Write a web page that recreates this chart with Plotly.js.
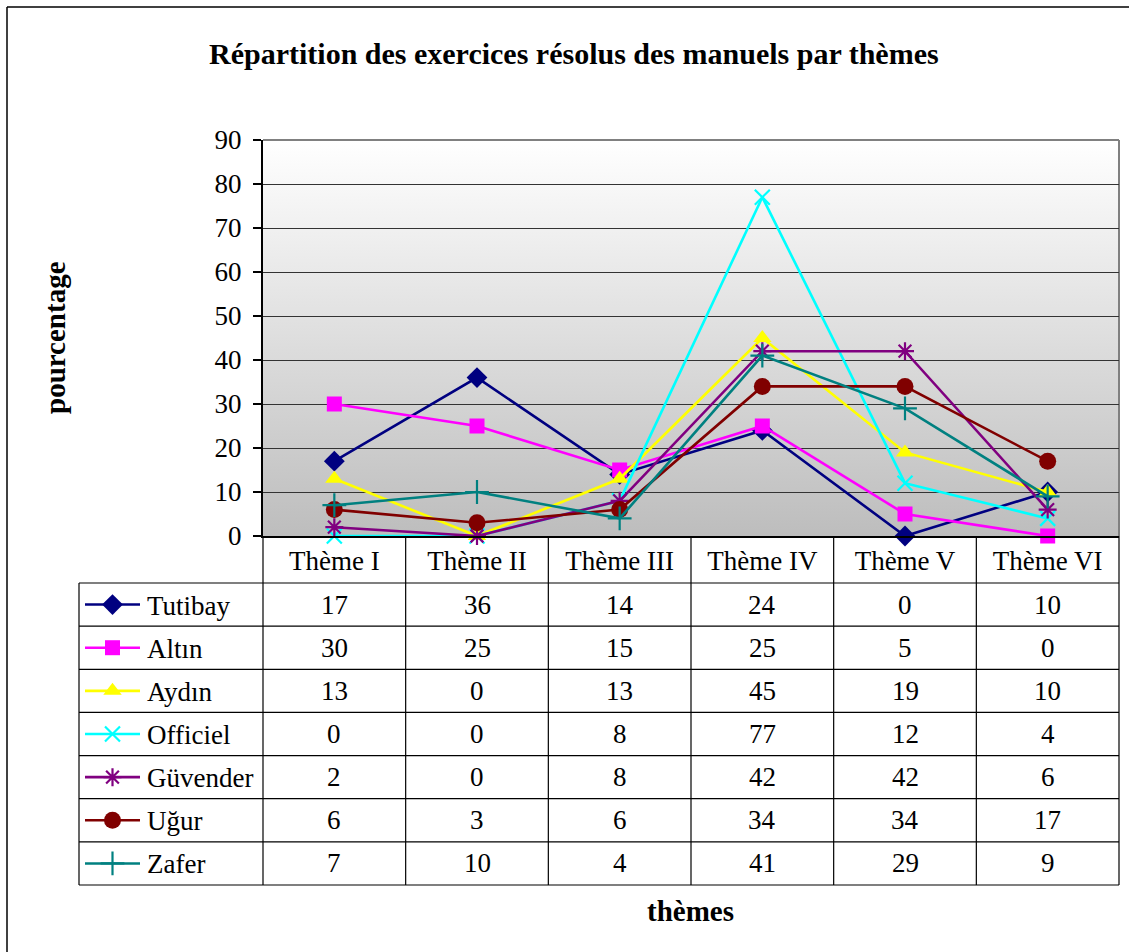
<!DOCTYPE html>
<html>
<head>
<meta charset="utf-8">
<script src="https://cdn.plot.ly/plotly-3.0.1.min.js"></script>
<style>html,body{margin:0;padding:0;background:#fff;}#chart{width:1129px;height:952px;}</style>
</head>
<body>
<div id="chart"></div>
<script>
// ---- data ----
const themes = ['Thème I', 'Thème II', 'Thème III', 'Thème IV', 'Thème V', 'Thème VI'];
const seriesNames = ['Tutibay', 'Altın', 'Aydın', 'Officiel', 'Güvender', 'Uğur', 'Zafer'];
const tutibay  = [17, 36, 14, 24, 0, 10];
const altin    = [30, 25, 15, 25, 5, 0];
const aydin    = [13, 0, 13, 45, 19, 10];
const officiel = [0, 0, 8, 77, 12, 4];
const guvender = [2, 0, 8, 42, 42, 6];
const ugur     = [6, 3, 6, 34, 34, 17];
const zafer    = [7, 10, 4, 41, 29, 9];
const seriesValues = [tutibay, altin, aydin, officiel, guvender, ugur, zafer];
const yTicks = [0, 10, 20, 30, 40, 50, 60, 70, 80, 90];

// ---- styles ----
const styles = [
  {color: '#000080', symbol: 'diamond', size: 16},
  {color: '#FF00FF', symbol: 'square', size: 15},
  {color: '#FFFF00', symbol: 'triangle-up', size: 16},
  {color: '#00FFFF', symbol: 'x-thin-open', size: 15},
  {color: '#800080', symbol: 'asterisk-open', size: 15},
  {color: '#800000', symbol: 'circle', size: 17},
  {color: '#008080', symbol: 'cross-thin-open', size: 17}
];

const W = 1129, H = 952;
const PL = 263, PR = 1119, PT = 140, PB = 536;
const TL = 79, rowTop = 583, rowBot = 885;
const nRows = seriesNames.length;
const rowH = (rowBot - rowTop) / nRows;
const colW = (PR - PL) / themes.length;
const px = x => x / W;
const py = y => (H - y) / H;
const FONT = 'Liberation Serif, Times New Roman, serif';
const TXT = 27;

function markerOf(st) {
  const thin = st.symbol.indexOf('open') >= 0;
  return {symbol: st.symbol, size: st.size, color: st.color, opacity: 1,
          line: {color: st.color, width: thin ? 2.2 : 0}};
}

const traces = [];
seriesNames.forEach((name, i) => {
  const st = styles[i];
  traces.push({
    type: 'scatter', mode: 'lines+markers', name: name,
    x: themes, y: seriesValues[i], cliponaxis: false,
    line: {color: st.color, width: 2.6},
    marker: markerOf(st),
    showlegend: false, hoverinfo: 'x+y+name'
  });
  // legend sample in the data table: line + marker
  traces.push({
    type: 'scatter', mode: 'lines', xaxis: 'x2', yaxis: 'y2',
    x: [0, 1], y: [i + 0.5, i + 0.5],
    line: {color: st.color, width: 2.6}, showlegend: false, hoverinfo: 'skip'
  });
  traces.push({
    type: 'scatter', mode: 'markers', xaxis: 'x2', yaxis: 'y2', cliponaxis: false,
    x: [0.5], y: [i + 0.5],
    marker: markerOf(st), showlegend: false, hoverinfo: 'skip'
  });
});

const shapes = [];
const ann = [];
// outer chart border (left and top)
shapes.push({type: 'line', xref: 'paper', yref: 'paper', x0: px(7), x1: px(W), y0: py(7), y1: py(7), line: {color: '#000', width: 1.5}});
shapes.push({type: 'line', xref: 'paper', yref: 'paper', x0: px(7), x1: px(7), y0: py(7), y1: py(H), line: {color: '#000', width: 1.5}});
// plot area frame (top/right gray)
shapes.push({type: 'line', xref: 'paper', yref: 'paper', x0: px(PL), x1: px(PR), y0: py(PT), y1: py(PT), line: {color: '#808080', width: 2}, layer: 'below'});
shapes.push({type: 'line', xref: 'paper', yref: 'paper', x0: px(PR), x1: px(PR), y0: py(PT), y1: py(PB), line: {color: '#808080', width: 2}, layer: 'below'});
// table lines
const tline = {color: '#000', width: 1.2};
for (let c = 0; c <= themes.length; c++) {
  const x = PL + c * colW;
  shapes.push({type: 'line', xref: 'paper', yref: 'paper', x0: px(x), x1: px(x), y0: py(PB), y1: py(rowBot), line: tline});
}
shapes.push({type: 'line', xref: 'paper', yref: 'paper', x0: px(TL), x1: px(TL), y0: py(rowTop), y1: py(rowBot), line: tline});
for (let r = 0; r <= nRows; r++) {
  const y = rowTop + r * rowH;
  shapes.push({type: 'line', xref: 'paper', yref: 'paper', x0: px(TL), x1: px(PR), y0: py(y), y1: py(y), line: tline});
}
// table texts
seriesNames.forEach((name, i) => {
  const yc = rowTop + (i + 0.5) * rowH;
  ann.push({xref: 'paper', yref: 'paper', x: px(145), y: py(yc + 1), xanchor: 'left', yanchor: 'middle',
    text: name, showarrow: false, font: {family: FONT, size: TXT, color: '#000'}});
  seriesValues[i].forEach((v, j) => {
    ann.push({xref: 'paper', yref: 'paper', x: px(PL + (j + 0.5) * colW), y: py(yc), xanchor: 'center', yanchor: 'middle',
      text: String(v), showarrow: false, font: {family: FONT, size: TXT, color: '#000'}});
  });
});
// titles
ann.push({xref: 'paper', yref: 'paper', x: px(574), y: py(53), xanchor: 'center', yanchor: 'middle',
  text: '<b>Répartition des exercices résolus des manuels par thèmes</b>', showarrow: false,
  font: {family: FONT, size: 30, color: '#000'}});
ann.push({xref: 'paper', yref: 'paper', x: px(55), y: py(338), xanchor: 'center', yanchor: 'middle', textangle: -90,
  text: '<b>pourcentage</b>', showarrow: false, font: {family: FONT, size: 29, color: '#000'}});
ann.push({xref: 'paper', yref: 'paper', x: px(690), y: py(911), xanchor: 'center', yanchor: 'middle',
  text: '<b>thèmes</b>', showarrow: false, font: {family: FONT, size: 29, color: '#000'}});

// gradient background for the plot area
const svg = '<svg xmlns="http://www.w3.org/2000/svg" width="100" height="100" preserveAspectRatio="none">' +
  '<defs><linearGradient id="g" x1="0" y1="0" x2="0" y2="1"><stop offset="0" stop-color="#ffffff"/>' +
  '<stop offset="1" stop-color="#bdbdbd"/></linearGradient></defs><rect width="100" height="100" fill="url(#g)"/></svg>';
const bgImg = 'data:image/svg+xml;charset=utf-8,' + encodeURIComponent(svg);

const layout = {
  width: W, height: H,
  margin: {l: 0, r: 0, t: 0, b: 0},
  paper_bgcolor: '#fff', plot_bgcolor: 'rgba(0,0,0,0)',
  showlegend: false,
  font: {family: FONT, size: TXT, color: '#000'},
  xaxis: {
    domain: [px(PL), px(PR)], type: 'category', range: [-0.5, themes.length - 0.5],
    showgrid: false, zeroline: false, showline: true, linecolor: '#000', linewidth: 1.5,
    ticks: '', ticklabelstandoff: 0, tickfont: {family: FONT, size: TXT, color: '#000'}, fixedrange: true
  },
  yaxis: {
    domain: [py(PB), py(PT)], range: [0, 90], tickvals: yTicks, ticktext: yTicks.map(String),
    showgrid: true, gridcolor: '#333', gridwidth: 1, zeroline: false,
    showline: true, linecolor: '#000', linewidth: 2, ticks: 'outside', ticklen: 8, tickcolor: '#000', tickwidth: 1.5,
    ticklabelstandoff: 6, tickfont: {family: FONT, size: TXT, color: '#000'}, fixedrange: true
  },
  xaxis2: {domain: [px(85), px(140)], range: [0, 1], visible: false, fixedrange: true, anchor: 'y2'},
  yaxis2: {domain: [py(rowBot), py(rowTop)], range: [nRows, 0], visible: false, fixedrange: true, anchor: 'x2'},
  images: [{source: bgImg, xref: 'paper', yref: 'paper', x: px(PL), y: py(PT), sizex: px(PR) - px(PL), sizey: py(PT) - py(PB),
    xanchor: 'left', yanchor: 'top', sizing: 'stretch', layer: 'below'}],
  shapes: shapes,
  annotations: ann
};

Plotly.newPlot('chart', traces, layout, {displayModeBar: false, staticPlot: true});
</script>
</body>
</html>
